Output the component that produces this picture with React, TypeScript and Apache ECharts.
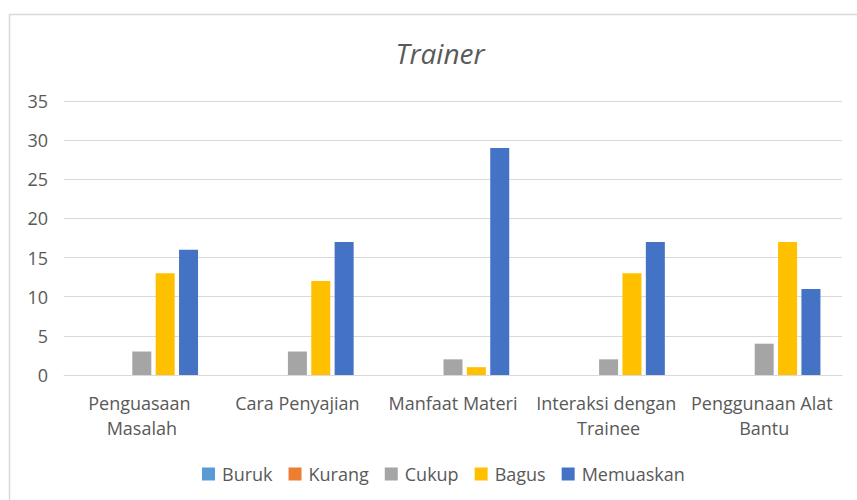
import React, { useEffect, useRef } from "react";
import * as echarts from "echarts";

const categories = [
  "Penguasaan Masalah",
  "Cara Penyajian",
  "Manfaat Materi",
  "Interaksi dengan Trainee",
  "Penggunaan Alat Bantu",
];
const seriesNames = ["Buruk", "Kurang", "Cukup", "Bagus", "Memuaskan"];
const buruk = [0, 0, 0, 0, 0];
const kurang = [0, 0, 0, 0, 0];
const cukup = [3, 3, 2, 2, 4];
const bagus = [13, 12, 1, 13, 17];
const memuaskan = [16, 17, 29, 17, 11];
const seriesColors = ["#5B9BD5", "#ED7D31", "#A5A5A5", "#FFC000", "#4472C4"];

export default function App() {
  const ref = useRef<HTMLDivElement>(null);
  useEffect(() => {
    if (!ref.current) return;
    const chart = echarts.init(ref.current, null, { renderer: "svg" });
    const font = "'Open Sans', sans-serif";
    const values = [buruk, kurang, cukup, bagus, memuaskan];
    chart.setOption({
      animation: false,
      backgroundColor: "#ffffff",
      textStyle: { fontFamily: font },
      title: {
        text: "Trainer",
        left: 435,
        textAlign: "center",
        top: 34,
        textStyle: {
          fontFamily: font,
          fontStyle: "italic",
          fontWeight: "normal",
          fontSize: 28,
          color: "#595959",
        },
      },
      graphic: [
        {
          type: "rect",
          shape: { x: 9.5, y: 14.5, width: 900, height: 600 },
          style: { fill: "none", stroke: "#d9d9d9", lineWidth: 1.5 },
          silent: true,
        },
      ],
      legend: {
        bottom: 12,
        left: 197,
        itemWidth: 13,
        itemHeight: 13,
        itemGap: 16,
        icon: "rect",
        textStyle: { fontFamily: font, fontSize: 18, color: "#595959", padding: [0, 0, 0, 2] },
        data: seriesNames,
      },
      grid: { left: 64, right: 15, top: 101, bottom: 125, containLabel: false },
      xAxis: {
        type: "category",
        data: categories,
        axisLine: { lineStyle: { color: "#d9d9d9", width: 1 } },
        axisTick: { show: false },
        axisLabel: {
          fontFamily: font,
          fontSize: 18,
          color: "#595959",
          margin: 15,
          lineHeight: 25,
          width: 170,
          overflow: "break",
          interval: 0,
        },
      },
      yAxis: {
        type: "value",
        min: 0,
        max: 35,
        interval: 5,
        axisLine: { show: false },
        axisTick: { show: false },
        splitLine: { lineStyle: { color: "#d9d9d9", width: 1 } },
        axisLabel: { fontFamily: font, fontSize: 18, color: "#595959", margin: 16 },
      },
      series: seriesNames.map((name, i) => ({
        name,
        type: "bar",
        data: values[i],
        barWidth: 19,
        barGap: "23%",
        itemStyle: { color: seriesColors[i] },
      })),
    });
    return () => chart.dispose();
  }, []);
  return (
    <div
      ref={ref}
      style={{ position: "absolute", left: 0, top: 0, width: 857, height: 500 }}
    />
  );
}
